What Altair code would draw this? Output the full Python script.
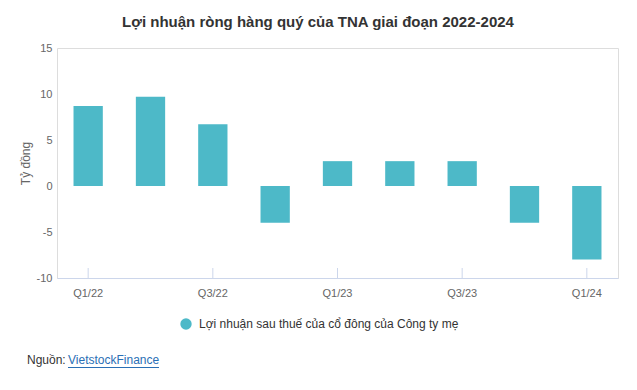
import altair as alt
import pandas as pd

quarters = ["Q1/22", "Q2/22", "Q3/22", "Q4/22", "Q1/23", "Q2/23", "Q3/23", "Q4/23", "Q1/24"]
profit = [8.7, 9.7, 6.7, -4.0, 2.7, 2.7, 2.7, -4.0, -8.0]
tick_quarters = ["Q1/22", "Q3/22", "Q1/23", "Q3/23", "Q1/24"]
series_name = "Lợi nhuận sau thuế của cổ đông của Công ty mẹ"
title_text = "Lợi nhuận ròng hàng quý của TNA giai đoạn 2022-2024"
y_title = "Tỷ đồng"
y_ticks = [-10, -5, 0, 5, 10, 15]

FONT = "Liberation Sans"
BAR = "#4db9c8"
W, H = 561, 230

df = pd.DataFrame({"quarter": quarters, "value": profit, "series": [series_name] * len(quarters)})
ticks_df = pd.DataFrame({"quarter": tick_quarters})

x_scale = alt.Scale(domain=quarters, paddingInner=0.53, paddingOuter=0.265)

bars = alt.Chart(df).mark_bar(color=BAR).encode(
    x=alt.X("quarter:N", scale=x_scale, sort=quarters,
            axis=alt.Axis(title=None, values=tick_quarters, labelAngle=0, ticks=False,
                          domainColor="#ccd6eb", domainWidth=1, labelColor="#666666",
                          labelFontSize=11, labelFont=FONT, labelPadding=9, grid=False)),
    y=alt.Y("value:Q", scale=alt.Scale(domain=[-10, 15], nice=False, zero=True),
            axis=alt.Axis(title=y_title, values=y_ticks, ticks=False, domain=False, grid=False,
                          labelExpr="datum.value + ''",
                          labelColor="#666666", labelFontSize=11, labelFont=FONT, labelPadding=5,
                          titleFont=FONT, titleFontSize=12, titleFontWeight="normal",
                          titleColor="#666666", titleX=-32, titleY=115, titleAngle=-90,
                          titleBaseline="middle", titleAlign="center")),
    color=alt.Color("series:N", scale=alt.Scale(domain=[series_name], range=[BAR]),
                    legend=alt.Legend(title=None, orient="none", legendX=123, legendY=270,
                                      symbolType="circle", symbolSize=130, symbolStrokeWidth=0,
                                      labelFont=FONT, labelFontSize=12, labelColor="#333333",
                                      labelLimit=0, padding=0, labelOffset=7)),
)

tick_rules = alt.Chart(ticks_df).mark_rule(color="#ccd6eb", strokeWidth=1).encode(
    x=alt.X("quarter:N", scale=x_scale, sort=quarters),
    y=alt.value(H - 10),
    y2=alt.value(H),
)

title = alt.Chart(pd.DataFrame({"t": [title_text]})).mark_text(
    font=FONT, fontSize=15, fontWeight="bold", color="#333333", align="center", baseline="middle"
).encode(text="t:N", x=alt.value(261), y=alt.value(-26))

src1 = alt.Chart(pd.DataFrame({"t": ["Nguồn:"]})).mark_text(
    font=FONT, fontSize=12, color="#333333", align="left", baseline="middle"
).encode(text="t:N", x=alt.value(-30), y=alt.value(312))

src2 = alt.Chart(pd.DataFrame({"t": ["VietstockFinance"]})).mark_text(
    font=FONT, fontSize=12, color="#2a6fb5", align="left", baseline="middle"
).encode(text="t:N", x=alt.value(11), y=alt.value(312))

underline = alt.Chart(pd.DataFrame({"t": [0]})).mark_rule(color="#2a6fb5", strokeWidth=1).encode(
    x=alt.value(11), x2=alt.value(102), y=alt.value(319.5)
)

chart = alt.layer(bars, tick_rules, title, src1, src2, underline).properties(
    width=W, height=H,
    autosize=alt.AutoSizeParams(type="none"),
    padding={"left": 49, "top": 40, "right": 11, "bottom": 104},
).configure_view(stroke=None).configure(font=FONT)

chart.save("out.html", embed_options={"renderer": "svg", "actions": False})
